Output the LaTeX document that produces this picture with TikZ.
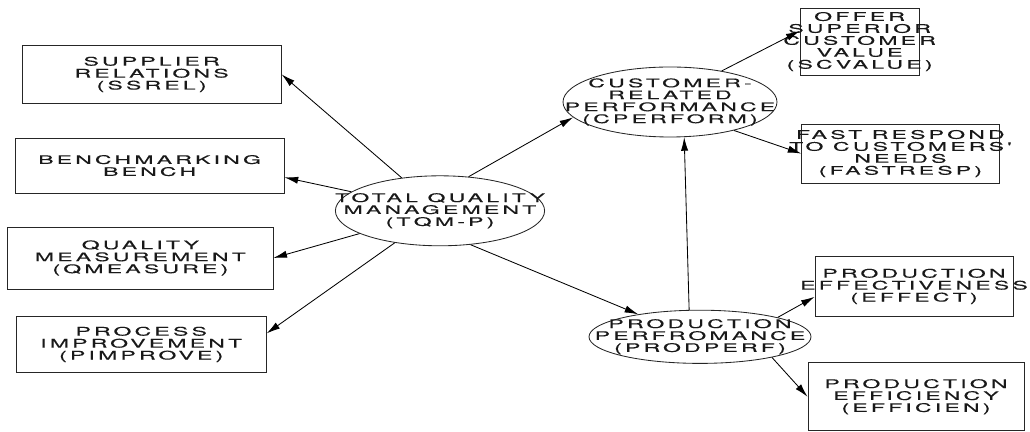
\documentclass[tikz,border=0pt]{standalone}
\usepackage{fontspec}
\usetikzlibrary{arrows.meta, shapes.geometric}
\newfontfamily\diagfont[FakeStretch=1.95, LetterSpace=27, FakeBold=0.3]{TeX Gyre Heros}

\begin{document}
\begin{tikzpicture}[
  >={Latex[length=3.4mm, width=1.8mm]},
  line width=0.6pt,
  box/.style={draw=black!85, inner sep=0pt},
  ell/.style={draw=black!85, ellipse, inner sep=0pt},
  txt/.style={font=\diagfont\fontsize{8.4}{8.5}\selectfont, align=center, text=black!90}
]
\useasboundingbox (0,0) rectangle (25.75,10.8);
% left column: the four practices of TQM
\node[box, minimum width=6.48cm, minimum height=1.43cm,
      label={[txt]center:{SUPPLIER\\RELATIONS\\(SSREL)}}] (ssrel) at (3.79,8.94) {};
\node[box, minimum width=6.73cm, minimum height=1.38cm,
      label={[txt]center:{BENCHMARKING\\BENCH}}] (bench) at (3.74,6.66) {};
\node[box, minimum width=6.63cm, minimum height=1.55cm,
      label={[txt]center:{QUALITY\\MEASUREMENT\\(QMEASURE)}}] (qmeas) at (3.51,4.35) {};
\node[box, minimum width=6.25cm, minimum height=1.38cm,
      label={[txt]center:{PROCESS\\IMPROVEMENT\\(PIMPROVE)}}] (pimp) at (3.53,2.19) {};
% the three latent constructs
\node[ell, minimum width=5.23cm, minimum height=1.75cm,
      label={[txt]center:{TOTAL QUALITY\\MANAGEMENT\\(TQM-P)}}] (tqm) at (11.0,5.53) {};
\node[ell, minimum width=5.35cm, minimum height=1.75cm,
      label={[txt]center:{CUSTOMER-\\RELATED\\PERFORMANCE\\(CPERFORM)}}] (cperf) at (16.75,8.25) {};
\node[ell, minimum width=5.55cm, minimum height=1.33cm,
      label={[txt]center:{PRODUCTION\\PERFROMANCE\\(PRODPERF)}}] (prod) at (17.5,2.38) {};
% right column: the indicators of performance
\node[box, minimum width=2.98cm, minimum height=1.68cm,
      label={[txt]center:{OFFER\\SUPERIOR\\CUSTOMER\\VALUE\\(SCVALUE)}}] (scval) at (21.49,9.76) {};
\node[box, minimum width=4.93cm, minimum height=1.48cm,
      label={[txt]center:{FAST RESPOND\\TO CUSTOMERS'\\NEEDS\\(FASTRESP)}}] (fast) at (22.51,6.96) {};
\node[box, minimum width=4.95cm, minimum height=1.48cm,
      label={[txt]center:{PRODUCTION\\EFFECTIVENESS\\(EFFECT)}}] (effect) at (22.85,3.64) {};
\node[box, minimum width=5.4cm, minimum height=1.7cm,
      label={[txt]center:{PRODUCTION\\EFFICIENCY\\(EFFICIEN)}}] (effic) at (22.9,0.88) {};
% arrows
\draw[->] (tqm) -- (ssrel.east);
\draw[->] (tqm) -- (bench.-5);
\draw[->] (tqm) -- (qmeas.east);
\draw[->] (tqm) -- (pimp.5);
\draw[->] (tqm.50) -- (cperf.189);
\draw[->] (tqm.-48) -- (prod.160);
\draw[->] (prod.112) -- (cperf.-68);
\draw[->] (cperf.31) -- (scval.170);
\draw[->] (cperf.-24) -- (fast.west);
\draw[->] (prod.14) -- (effect.186);
\draw[->] (prod.-16) -- (effic.west);
\end{tikzpicture}
\end{document}
